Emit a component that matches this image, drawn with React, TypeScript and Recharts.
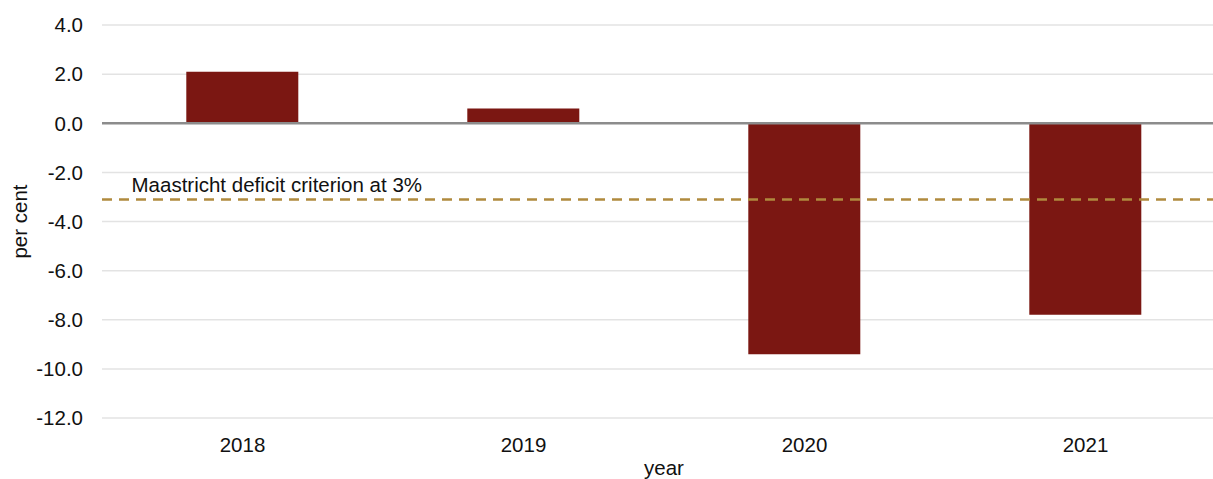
import React from "react";
import { BarChart, Bar, XAxis, YAxis, CartesianGrid, ReferenceLine, Label } from "recharts";

const years = ["2018", "2019", "2020", "2021"];
const balance = [2.1, 0.6, -9.4, -7.8];
const yTicks = [-12, -10, -8, -6, -4, -2, 0, 2, 4];
const criterion = -3.1;
const criterionText = "Maastricht deficit criterion at 3%";

const data = years.map((year, i) => ({ year, value: balance[i] }));

const font = "'Liberation Sans', Arial, sans-serif";
const fs = 20.5;

export default function App() {
  return (
    <div style={{ position: "absolute", left: 0, top: 0, width: 1213, height: 479, overflow: "hidden", background: "#fff" }}>
      <BarChart
        width={1226}
        height={479}
        data={data}
        margin={{ top: 25, right: 0, bottom: 0, left: 0 }}
        barCategoryGap="30%"
        style={{ fontFamily: font }}
      >
        <CartesianGrid vertical={false} stroke="#e3e3e3" strokeWidth={1.5} />
        <XAxis
          dataKey="year"
          height={61}
          axisLine={false}
          tickLine={false}
          tickSize={0}
          tickMargin={19.5}
          tick={{ fontSize: fs, fill: "#111", fontFamily: font }}
        >
          <Label value="year" position="insideBottom" offset={4} style={{ fontSize: fs, fill: "#111", fontFamily: font }} />
        </XAxis>
        <YAxis
          width={102}
          domain={[-12, 4]}
          ticks={yTicks}
          interval={0}
          axisLine={false}
          tickLine={false}
          tickSize={0}
          tickMargin={19}
          tickFormatter={(v: number) => v.toFixed(1)}
          tick={{ fontSize: fs, fill: "#111", fontFamily: font }}
        >
          <Label
            value="per cent"
            angle={-90}
            position="insideLeft"
            offset={20}
            style={{ fontSize: fs, fill: "#111", fontFamily: font, textAnchor: "middle" }}
          />
        </YAxis>
        <Bar dataKey="value" fill="#7b1712" isAnimationActive={false} />
        <ReferenceLine y={0} stroke="#8c8c8c" strokeWidth={2.5} />
        <ReferenceLine
          y={criterion}
          stroke="#b08a3e"
          strokeWidth={2.5}
          strokeDasharray="10 7"
          label={(props: any) => {
            const vb = props.viewBox || {};
            return (
              <text x={vb.x + 29.5} y={vb.y - 7} fontSize={fs} fill="#111" fontFamily={font}>
                {criterionText}
              </text>
            );
          }}
        />
      </BarChart>
    </div>
  );
}
